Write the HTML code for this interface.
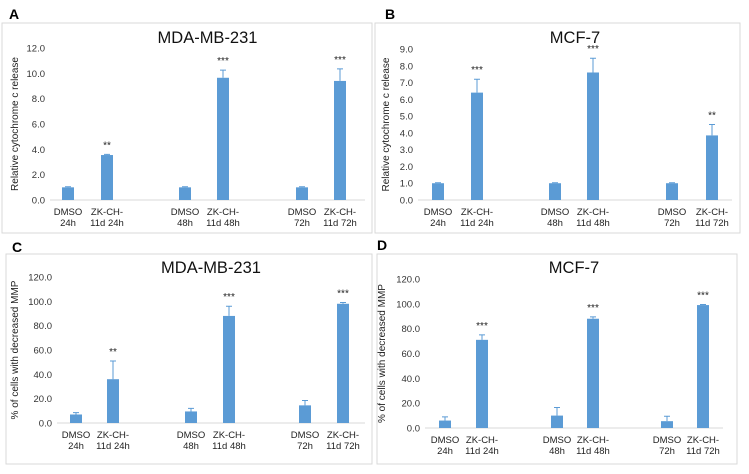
<!DOCTYPE html>
<html><head><meta charset="utf-8">
<style>
body{margin:0;background:#fff;width:749px;height:469px;overflow:hidden;font-family:"Liberation Sans",Arial,sans-serif}
svg text{font-family:"Liberation Sans",Arial,sans-serif}
</style></head>
<body>
<svg id="fig" width="749" height="469"></svg>
<script>
const categories1=["DMSO","ZK-CH-","DMSO","ZK-CH-","DMSO","ZK-CH-"];
const categories2=["24h","11d 24h","48h","11d 48h","72h","11d 72h"];
const valuesA=[1.0,3.55,1.0,9.65,1.0,9.4];
const errorsA=[0.05,0.05,0.05,0.6,0.05,0.95];
const sigA=["","**","","***","","***"];
const ticksA=["0.0","2.0","4.0","6.0","8.0","10.0","12.0"];
const valuesB=[1.0,6.4,1.0,7.6,1.0,3.85];
const errorsB=[0.03,0.8,0.03,0.85,0.03,0.65];
const sigB=["","***","","***","","**"];
const ticksB=["0.0","1.0","2.0","3.0","4.0","5.0","6.0","7.0","8.0","9.0"];
const valuesC=[7,36,9.5,88,14.5,98];
const errorsC=[1.5,15,2.5,8,4,1];
const sigC=["","**","","***","","***"];
const ticksC=["0.0","20.0","40.0","60.0","80.0","100.0","120.0"];
const valuesD=[6,71,10,88,5.5,99];
const errorsD=[3,4,6.5,1.5,4,0.5];
const sigD=["","***","","***","","***"];
const ticksD=["0.0","20.0","40.0","60.0","80.0","100.0","120.0"];

const NS="http://www.w3.org/2000/svg";
const svg=document.getElementById('fig');
function mk(tag,attrs,parent,text){const e=document.createElementNS(NS,tag);for(const k in attrs)e.setAttribute(k,attrs[k]);if(text!==undefined)e.textContent=text;(parent||svg).appendChild(e);return e;}

function panel(cfg){
  const g=mk('g',{});
  
  
  const frame=mk('rect',{x:cfg.bx,y:cfg.by,width:cfg.bw,height:cfg.bh,fill:'none',stroke:'#d9d9d9','stroke-width':1},g);
  
  
  const L=mk('text',{x:cfg.lx,y:cfg.ly,'font-size':14,'font-weight':'bold',fill:'#000'},g,cfg.letter);
  
  
  const T=mk('text',{x:(cfg.x0+cfg.x1)/2,y:cfg.ty,'font-size':16.5,'text-anchor':'middle',fill:'#111'},g,cfg.title);
  
  
  const max=parseFloat(cfg.ticks[cfg.ticks.length-1]);
  const yS=v=>cfg.y0-(v/max)*(cfg.y0-cfg.yt);
  cfg.ticks.forEach(t=>{
    const tt=mk('text',{x:cfg.x0-5,y:yS(parseFloat(t))+3.5,'font-size':9.5,'text-anchor':'end',fill:'#333'},g,t);
    
    
  });
  const ax=mk('line',{x1:cfg.x0,x2:cfg.x1,y1:cfg.y0,y2:cfg.y0,stroke:'#d9d9d9','stroke-width':1},g);
  
  
  const yc=(cfg.y0+cfg.yt)/2;
  const yt=mk('text',{x:cfg.ytx,y:yc,'font-size':10,'text-anchor':'middle',fill:'#222',transform:`rotate(-90 ${cfg.ytx} ${yc})`},g,cfg.ytitle);
  
  
  const bw=12;
  cfg.values.forEach((v,i)=>{
    const cx=cfg.centers[i];
    const top=yS(v);
    const b=mk('rect',{x:cx-bw/2,y:top,width:bw,height:cfg.y0-top,fill:'#5b9bd5'},g);
    
    
    const et=yS(v+cfg.errors[i]);
    const el=mk('path',{d:`M${cx} ${top}V${et}M${cx-3} ${et}H${cx+3}`,stroke:'#5b9bd5','stroke-width':1,fill:'none'},g);
    
    
    if(cfg.sig[i]){
      const s=mk('text',{x:cx,y:et-6,'font-size':10,'text-anchor':'middle',fill:'#222'},g,cfg.sig[i]);
      
      
    }
    const c1=mk('text',{x:cx,y:cfg.y0+15,'font-size':9.5,'text-anchor':'middle',fill:'#222'},g,categories1[i]);
    
    
    const c2=mk('text',{x:cx,y:cfg.y0+26,'font-size':9.5,'text-anchor':'middle',fill:'#222'},g,categories2[i]);
    
    
  });
}
panel({letter:'A',lx:9,ly:19,bx:2,by:23,bw:370,bh:210,title:'MDA-MB-231',ty:43,x0:50,x1:365,y0:200,yt:48,ytx:18,ticks:ticksA,values:valuesA,errors:errorsA,sig:sigA,centers:[68,107,185,223,302,340],ytitle:'Relative cytochrome c release'});
panel({letter:'B',lx:385,ly:19,bx:375,by:23,bw:365,bh:210,title:'MCF-7',ty:43,x0:418,x1:732,y0:200,yt:49,ytx:389,ticks:ticksB,values:valuesB,errors:errorsB,sig:sigB,centers:[438,477,555,593,672,712],ytitle:'Relative cytochrome c release'});
panel({letter:'C',lx:12,ly:252,bx:6,by:254,bw:366,bh:210,title:'MDA-MB-231',ty:273,x0:57,x1:365,y0:423,yt:277,ytx:18,ticks:ticksC,values:valuesC,errors:errorsC,sig:sigC,centers:[76,113,191,229,305,343],ytitle:'% of cells with decreased MMP'});
panel({letter:'D',lx:377,ly:250,bx:377,by:254,bw:360,bh:210,title:'MCF-7',ty:273,x0:425,x1:723,y0:428,yt:279,ytx:385,ticks:ticksD,values:valuesD,errors:errorsD,sig:sigD,centers:[445,482,557,593,667,703],ytitle:'% of cells with decreased MMP'});
</script>
</body></html>
